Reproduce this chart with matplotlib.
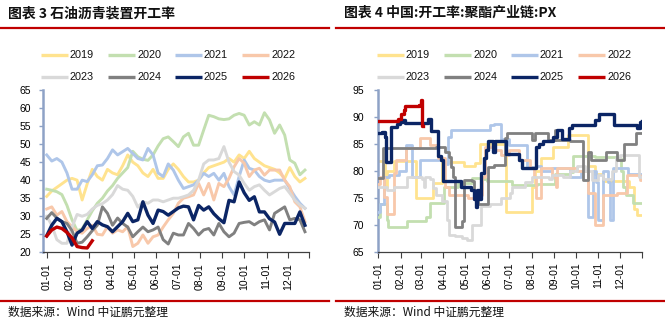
import matplotlib
matplotlib.use("Agg")
import matplotlib.pyplot as plt
from matplotlib.lines import Line2D

W, H = 665, 325
plt.rcParams['font.family'] = ['Liberation Sans', 'Noto Sans CJK SC', 'DejaVu Sans']

years = ['2019', '2020', '2021', '2022', '2023', '2024', '2025', '2026']
colors = ['#FFE38F', '#C3DFB0', '#AFC6E9', '#F8C8AA', '#D9D9D9', '#808080', '#0B2565', '#C00000']

month_starts = [0, 31, 59, 90, 120, 151, 181, 212, 243, 273, 304, 334]
month_labels = ['01-01', '02-01', '03-01', '04-01', '05-01', '06-01',
                '07-01', '08-01', '09-01', '10-01', '11-01', '12-01']

# ---- 石油沥青装置开工率 (weekly, %) ----
asphalt_2019 = [35.5, 37, 38, 39, 40, 40.5, 40, 34.5, 39, 43, 41, 40, 43, 42, 41.5, 44,
                47, 45, 44, 42, 41, 43, 40.5, 40.5, 43, 44.5, 43, 41, 39.5, 39.5, 40, 42,
                43.5, 44, 44.5, 45, 46, 45, 47, 46, 48, 46, 45, 44, 43.5, 43, 42, 40.5,
                43.5, 41, 39.5, 40.5]
asphalt_2020 = [37.5, 37.2, 36.8, 36, 33, 29, 26, 26.5, 29, 31.5, 33.6, 35, 37, 38.5, 40.5, 42,
                43.5, 48, 46.5, 45.8, 45.5, 47, 49.5, 51.5, 52, 50.7, 49.3, 52, 53, 49.7, 49.7, 53.9,
                58, 57.6, 57, 56.8, 57, 58, 58.5, 58, 55.3, 56.2, 55.3, 58.7, 56.7, 53, 55.3, 52.5,
                45.6, 44.7, 41.5, 42.8]
asphalt_2021 = [47, 45.3, 46, 45, 42, 37.5, 37.5, 40, 39.6, 41.5, 44, 44.2, 46, 48.4, 47, 47.9,
                48.8, 47.4, 46, 45.6, 48.8, 47, 42, 41, 44.5, 42.8, 40, 37.7, 38.2, 38.7, 40, 41.9,
                41, 41.9, 40, 41.9, 38.2, 35.9, 41, 45.6, 43.3, 42.8, 41, 40, 39.6, 40, 40, 40,
                37.7, 35.5, 33.6, 32.2]
asphalt_2022 = [32, 32.6, 30.3, 31.3, 28.5, 27.1, 25.7, 25.3, 26.6, 27.5, 25, 24.8, 27.1, 25.3, 26.2, 25.7,
                27.1, 21.6, 22.5, 24.8, 22.5, 24.3, 24.8, 27, 29, 30.8, 33.6, 35, 35.4, 35.9, 39.1, 35.9,
                39.1, 34.5, 39.1, 38.2, 40.5, 43.7, 46, 44.7, 41, 42.8, 43.3, 41.4, 42.8, 42.8, 42.8, 40,
                38.2, 34, 32.6, 28.5]
asphalt_2023 = [30, 27.5, 23.5, 22.5, 22.5, 27, 30.5, 30, 30.5, 32, 33, 33.5, 34.5, 36, 38.5, 37.5,
                37.2, 35.5, 32.5, 34, 33.6, 34.5, 34.5, 34, 34.5, 35, 35, 35.4, 35.9, 37.2, 40, 44.5,
                45.6, 45.6, 46, 49.3, 45, 42.4, 41.4, 39.1, 37.2, 38.2, 38.7, 37.2, 35.9, 36.8, 37.7, 38.2,
                36.4, 34.5, 33.1, 32.2]
asphalt_2024 = [29.4, 31, 29.5, 28.5, 28, 26, 22.5, 22.8, 24.3, 26, 27.5, 32.6, 30.8, 27.5, 29.5, 28,
                27, 24.3, 25.7, 27, 25.7, 26.2, 27, 23.5, 22.3, 25.3, 24.8, 24.8, 28, 26.6, 24.8, 26.2,
                26.6, 24.8, 28, 25.7, 24.3, 25.3, 28, 28.3, 28.5, 27.6, 28.5, 29, 26.2, 30.8, 31.7, 32.6,
                29, 29.4, 29, 25.7]
asphalt_2025 = [24.6, 27.5, 29.4, 28.5, 25.7, 22, 25.3, 26.2, 28.5, 26.6, 28.5, 27.6, 27.1, 25.7, 27.1, 28.5,
                30.8, 28.5, 29, 34, 30.3, 28, 31.7, 31.3, 30.3, 31.3, 32.3, 32.8, 32.6, 29, 33, 31.7,
                32.6, 30.7, 29.3, 28.2, 34.4, 34, 39.5, 36.5, 34.4, 35.4, 31.2, 31.2, 29.3, 28.4, 25, 28,
                28, 28, 31.2, 27.5]
asphalt_2026 = [24.5, 26.2, 27, 26.6, 25.5, 24, 21.6, 21.3, 21.2, 23.2]
asphalt = [asphalt_2019, asphalt_2020, asphalt_2021, asphalt_2022,
           asphalt_2023, asphalt_2024, asphalt_2025, asphalt_2026]

# ---- 中国:开工率:聚酯产业链:PX (daily, stored as change points: day-of-year, %) ----
px_2019_days = [0, 9, 12, 22, 52, 70, 75, 88, 118, 133, 140, 150, 177, 199, 213, 216, 225, 241, 262, 290, 300, 310, 346, 353, 358, 364]
px_2019_vals = [81.8, 77, 80, 81.8, 75, 75, 77.8, 81.7, 81, 81.5, 85, 85.1, 72.5, 72.5, 77, 80, 82.4, 84.5, 86.7, 81, 79.5, 78.1, 77, 73, 71.9, 71.9]
px_2020_days = [0, 3, 12, 14, 38, 40, 66, 72, 86, 91, 110, 130, 145, 150, 185, 220, 244, 265, 269, 300, 330, 335, 338, 342, 352, 364]
px_2020_vals = [71.5, 74, 71, 69.7, 69.7, 70.7, 71.5, 74.1, 74.2, 77.1, 77.8, 78.8, 78.5, 78.1, 77.5, 77.6, 79.5, 79.8, 82.8, 82.7, 82.5, 80, 77, 75.6, 74.2, 74.2]
px_2021_days = [0, 3, 8, 15, 29, 38, 46, 57, 79, 92, 96, 101, 154, 160, 170, 180, 205, 218, 225, 240, 265, 280, 290, 297, 301, 304, 311, 318, 320, 324, 345, 364]
px_2021_vals = [72.5, 74, 79, 79.3, 80, 84.9, 79, 82, 82.1, 81.4, 86.4, 87.6, 88.5, 88.7, 86, 84.8, 80.7, 81, 80, 80.5, 79, 80, 71.5, 80, 78, 71, 80, 78, 71, 80.5, 79.5, 79.3]
px_2022_days = [0, 3, 8, 12, 22, 25, 38, 58, 72, 82, 92, 98, 124, 138, 143, 148, 160, 170, 180, 195, 210, 215, 218, 225, 240, 245, 247, 275, 290, 300, 310, 330, 344, 361, 364]
px_2022_vals = [77.7, 79, 75.3, 72, 79.6, 82, 84.2, 86.1, 84.8, 82.5, 77.1, 75.6, 75, 75.5, 79, 84.5, 84, 83, 84, 82, 80.5, 79, 75, 80.5, 79, 77, 80.5, 80, 75.9, 70, 75.6, 76, 79.3, 78.4, 78.4]
px_2023_days = [0, 12, 22, 33, 40, 55, 60, 63, 65, 72, 75, 80, 88, 95, 98, 106, 115, 122, 130, 142, 155, 170, 182, 185, 203, 212, 236, 240, 255, 265, 275, 285, 296, 303, 310, 323, 328, 334, 358, 360, 364]
px_2023_vals = [77, 76.5, 77, 77.1, 79, 79, 78.5, 77, 79, 78.5, 76.8, 75.5, 74.5, 71, 68.2, 68, 67.6, 67.3, 70.1, 73.5, 74, 75, 76, 77, 78, 79, 78.5, 79.3, 79, 80, 81, 80, 78.4, 79.3, 78.5, 80, 82.5, 83, 83, 79, 79]
px_2024_days = [0, 7, 80, 92, 98, 100, 103, 106, 115, 118, 129, 132, 138, 151, 160, 175, 178, 212, 216, 235, 244, 246, 265, 283, 290, 294, 315, 330, 340, 356, 364]
px_2024_vals = [78.7, 84.2, 84.5, 83.6, 82.7, 80.8, 79, 69.7, 70.7, 78.4, 78.1, 75, 74, 80.8, 81.1, 86.1, 87, 85.8, 87, 85.8, 87.6, 85.8, 85.5, 78.4, 83.6, 82, 83.6, 82, 85.1, 87, 87]
px_2025_days = [0, 5, 9, 11, 18, 26, 30, 34, 37, 68, 73, 82, 86, 89, 114, 128, 132, 135, 137, 139, 142, 146, 149, 152, 158, 161, 177, 194, 198, 218, 222, 227, 242, 247, 254, 263, 268, 300, 305, 326, 358, 361, 364]
px_2025_vals = [87, 87.2, 86.4, 81.7, 88.2, 88.7, 89.1, 89.5, 88.9, 89.6, 87.5, 82.8, 82, 78.2, 77.1, 76.5, 74.8, 73.4, 76.5, 74.8, 79.6, 82.5, 84, 85.5, 83.5, 85.5, 83.2, 82, 80.6, 84.5, 85.1, 85.5, 86.4, 87.6, 86, 87.9, 88.5, 89.5, 90.5, 88.5, 87.9, 89.1, 89.3]
px_2026_days = [0, 27, 31, 35, 37, 56, 59, 61, 62]
px_2026_vals = [89.2, 89.7, 90.5, 91.3, 92, 92.3, 93.1, 88.3, 88.3]
px_days = [px_2019_days, px_2020_days, px_2021_days, px_2022_days,
           px_2023_days, px_2024_days, px_2025_days, px_2026_days]
px_vals = [px_2019_vals, px_2020_vals, px_2021_vals, px_2022_vals,
           px_2023_vals, px_2024_vals, px_2025_vals, px_2026_vals]

RED = '#C00000'
SPINE_BLUE = '#8EA2C6'


def fx(x):
    return x / W


def fy(y):
    return 1 - y / H


fig = plt.figure(figsize=(W / 100, H / 100), dpi=100)


def frame(x0, x1, title):
    # title, red rule under it, legend block, bottom rule and source line
    fig.text(fx(x0 + 8), fy(13), title, fontsize=10, fontweight='bold',
             family=['Noto Sans CJK SC'], va='center', ha='left', color='#111111')
    fig.add_artist(Line2D([fx(x0), fx(x1)], [fy(28), fy(28)], color=RED, lw=1.6))
    fig.add_artist(Line2D([fx(x0), fx(x1)], [fy(300.5), fy(300.5)], color=RED, lw=1.6))
    fig.text(fx(x0 + 8), fy(312), '数据来源：Wind 中证鹏元整理', fontsize=8.5,
             family=['Noto Sans CJK SC'], va='center', ha='left', color='#111111')
    for i, (yr, c) in enumerate(zip(years, colors)):
        col, row = i % 4, i // 4
        lx = x0 + 41 + 67 * col
        ly = 55 + 22 * row
        fig.add_artist(Line2D([fx(lx), fx(lx + 27)], [fy(ly), fy(ly)], color=c, lw=2.4,
                              solid_capstyle='butt'))
        fig.text(fx(lx + 29), fy(ly), yr, fontsize=7.8, va='center', ha='left', color='#111111')


def style(ax, xlim, ylim, ystep, ypad, xpad):
    ax.set_xlim(*xlim)
    ax.set_ylim(*ylim)
    for s in ['top', 'right']:
        ax.spines[s].set_visible(False)
    ax.spines['left'].set_color(SPINE_BLUE)
    ax.spines['left'].set_linewidth(1.8)
    ax.spines['bottom'].set_color('#404040')
    ax.spines['bottom'].set_linewidth(0.9)
    ax.set_yticks(range(ylim[0], ylim[1] + 1, ystep))
    ax.set_xticks(month_starts + [xlim[1]])
    ax.set_xticklabels(month_labels + [''])
    ax.tick_params(axis='y', length=3, width=1.0, color=SPINE_BLUE, labelsize=7.5, pad=ypad)
    ax.tick_params(axis='x', length=4, width=0.8, color='#404040', labelsize=7.5,
                   labelrotation=90, pad=xpad)
    ax.patch.set_alpha(0)


# left panel: asphalt
frame(0, 329, '图表 3 石油沥青装置开工率')
ax1 = fig.add_axes([fx(43.3), fy(252.3), 266 / W, 162.3 / H])
for i, vals in enumerate(asphalt):
    days = [7 * k for k in range(len(vals))]
    lw = 2.4 if years[i] in ('2025', '2026') else 2.1
    ax1.plot(days, vals, color=colors[i], lw=lw, solid_joinstyle='round', zorder=2 + i)
style(ax1, (-4.7, 363), (20, 65), 5, 5.5, 3.6)

# right panel: PX
frame(336, 665, '图表 4 中国:开工率:聚酯产业链:PX')
ax2 = fig.add_axes([fx(378.3), fy(252.3), 263.4 / W, 162.3 / H])
for i, (d, v) in enumerate(zip(px_days, px_vals)):
    lw = 2.4 if years[i] in ('2025', '2026') else 2.0
    ax2.plot(d, v, color=colors[i], lw=lw, drawstyle='steps-post', zorder=2 + i)
style(ax2, (0, 364), (65, 95), 5, 7, 2.9)

fig.savefig('out.png', dpi=100)
